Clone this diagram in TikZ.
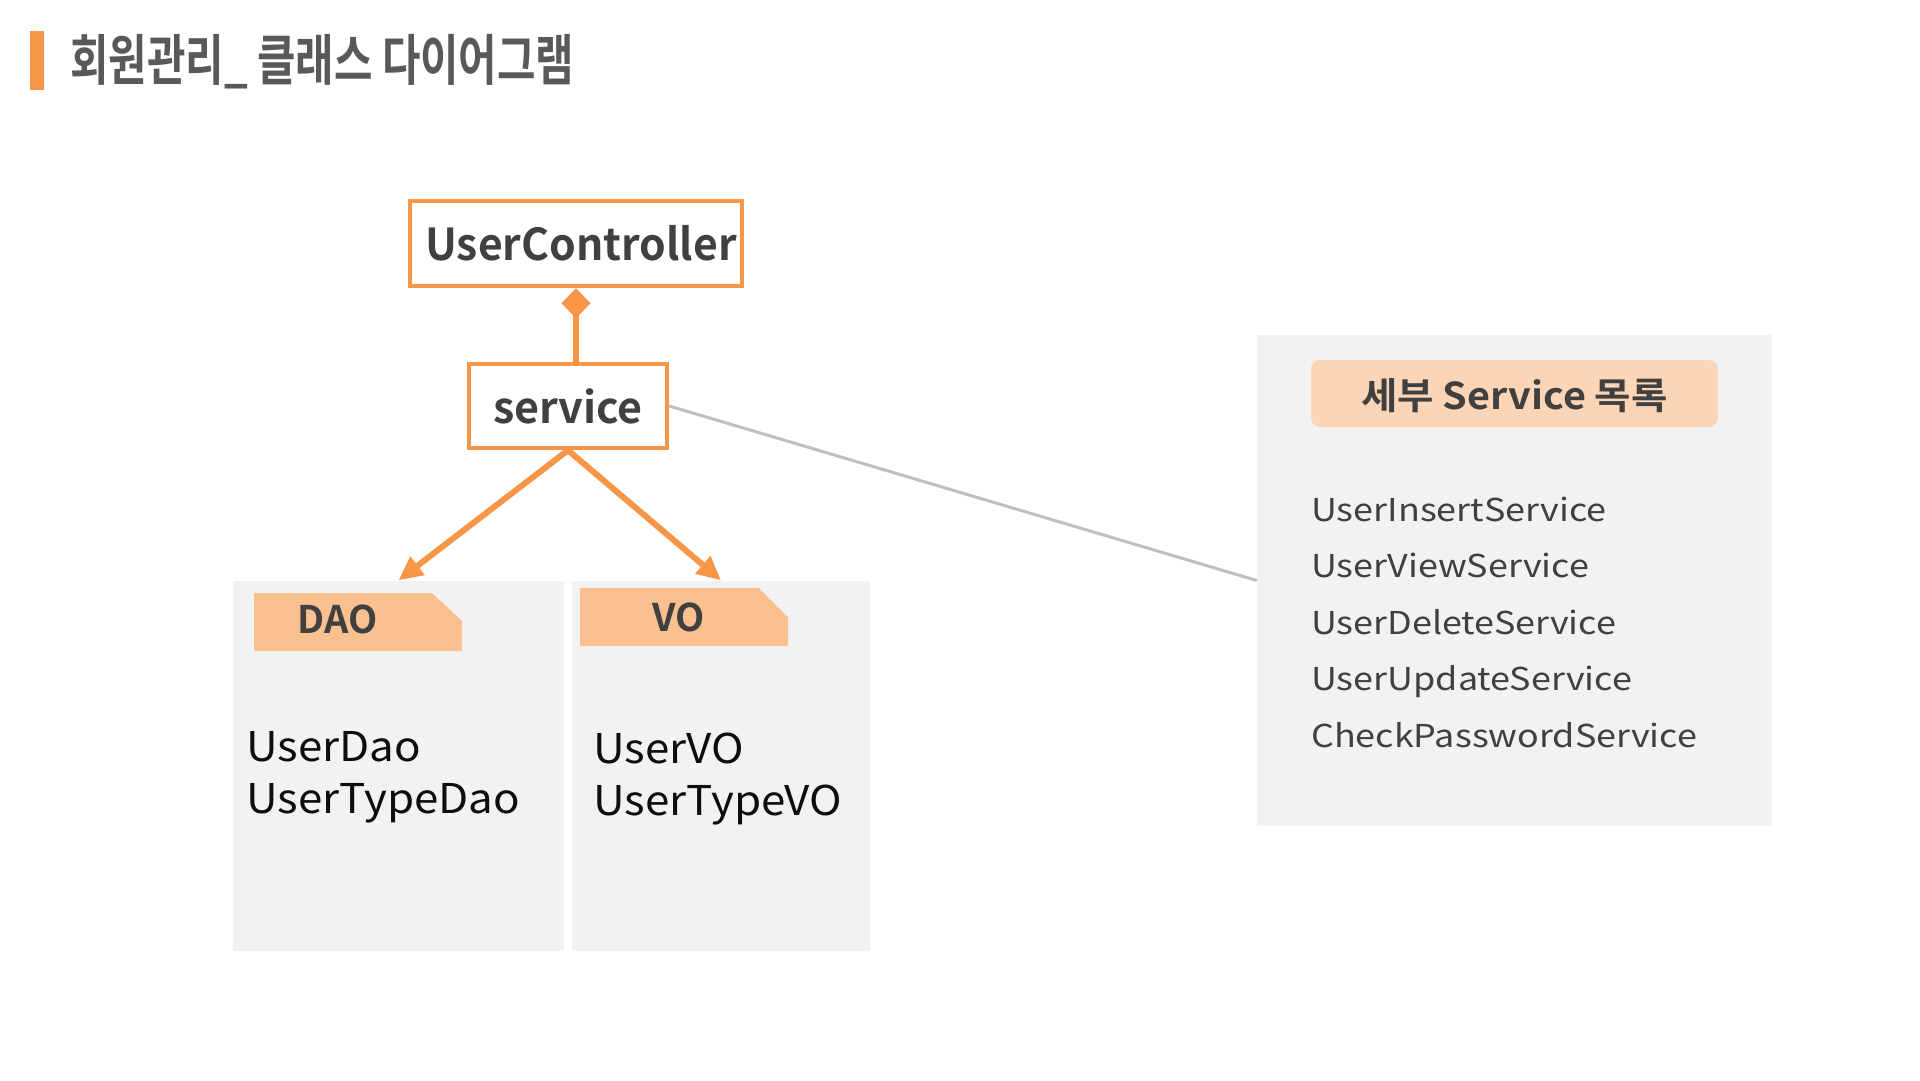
\documentclass[tikz,border=0pt]{standalone}
\usepackage{fontspec}
\setmainfont{Noto Sans CJK KR}[BoldFont={Noto Sans CJK KR Bold}]
\newfontfamily\titlefont{Noto Sans CJK KR Bold}[FakeStretch=0.76]
\newfontfamily\ucfont{Noto Sans CJK KR Bold}[FakeStretch=0.97]
\newfontfamily\pillfont{Noto Sans CJK KR Bold}[FakeStretch=1.07]
\newfontfamily\itemfont{Noto Sans CJK KR}[FakeStretch=1.07]
\newfontfamily\listfont{Noto Sans CJK KR}[FakeStretch=1.14]
\usetikzlibrary{arrows.meta}
\definecolor{orng}{HTML}{F79646}
\definecolor{tabfill}{HTML}{FAC090}
\definecolor{pillfill}{HTML}{FBD5B5}
\definecolor{panel}{HTML}{F2F2F2}
\definecolor{txt}{HTML}{404040}
\definecolor{ttl}{HTML}{595959}
\definecolor{conn}{HTML}{BFBFBF}
\tikzset{
  classbox/.style={draw=orng, line width=4.5pt, fill=white, inner sep=0pt, text=txt},
  panelbox/.style={fill=panel, draw=none},
  tabtext/.style={text=txt, font=\bfseries\fontsize{38}{44}\selectfont, inner sep=0pt, anchor=base},
  itemtext/.style={text=black!95, font=\itemfont\fontsize{41}{52}\selectfont, inner sep=0pt, anchor=base west, align=left},
  listtext/.style={text=txt, font=\listfont\fontsize{31.5}{56.5}\selectfont, inner sep=0pt, anchor=base west, align=left},
  orarrow/.style={draw=orng, line width=6pt, -{Triangle[length=24pt,width=22pt]}},
}
\begin{document}
\begin{tikzpicture}[x=1pt,y=-1pt]
\useasboundingbox (0,0) rectangle (1920,1080);
% title
\fill[orng] (30,31) rectangle (44,90);
\node[anchor=base west, inner sep=0pt, text=ttl, font=\titlefont\fontsize{55}{60}\selectfont] (title) at (70,80) {회원관리\_ 클래스 다이어그램};
% panels
\node[panelbox, minimum width=331pt, minimum height=370.5pt, inner sep=0pt] (daop) at (398.5,765.75) {};
\node[panelbox, minimum width=298pt, minimum height=370.5pt, inner sep=0pt] (vop) at (721,765.75) {};
\node[panelbox, minimum width=515pt, minimum height=491pt, inner sep=0pt] (svcp) at (1514.5,580.5) {};
% tabs
\fill[tabfill] (254,593) -- (432,593) -- (462,621) -- (462,651) -- (254,651) -- cycle;
\node[tabtext] (daot) at (337.5,633) {DAO};
\fill[tabfill] (580,588) -- (759,588) -- (788,617) -- (788,646) -- (580,646) -- cycle;
\node[tabtext] (vot) at (679,631) {VO};
% items (base anchor = last line)
\node[itemtext] (daoi) at (246,813) {UserDao\\UserTypeDao};
\node[itemtext] (voi) at (593,815) {UserVO\\UserTypeVO};
% service list panel
\node[fill=pillfill, rounded corners=9pt, minimum width=407pt, minimum height=67pt, inner sep=0pt] (pill) at (1514.5,393.5) {};
\node[anchor=base, inner sep=0pt, text=txt, font=\pillfont\fontsize{37}{40}\selectfont] (pillt) at (1514.5,409) {세부 Service 목록};
\node[listtext] (list) at (1311,747) {UserInsertService\\UserViewService\\UserDeleteService\\UserUpdateService\\CheckPasswordService};
% class boxes
\node[classbox, minimum width=332pt, minimum height=85pt, font=\ucfont\fontsize{44}{50}\selectfont] (uc) at (576,243.5) {\hspace*{10pt}UserController};
\node[classbox, minimum width=198pt, minimum height=84pt, font=\bfseries\fontsize{43}{50}\selectfont] (svc) at (568,406) {service};
% connectors
\draw[draw=orng, line width=6.5pt, {Diamond[length=30pt,width=29pt]}-] (uc.south) -- (uc.south |- svc.north);
\draw[orarrow] (svc.south) -- (daop.north);
\draw[orarrow] (svc.south) -- (vop.north);
\draw[conn, line width=3pt] (svc.east) -- (svcp.west);
\end{tikzpicture}
\end{document}
